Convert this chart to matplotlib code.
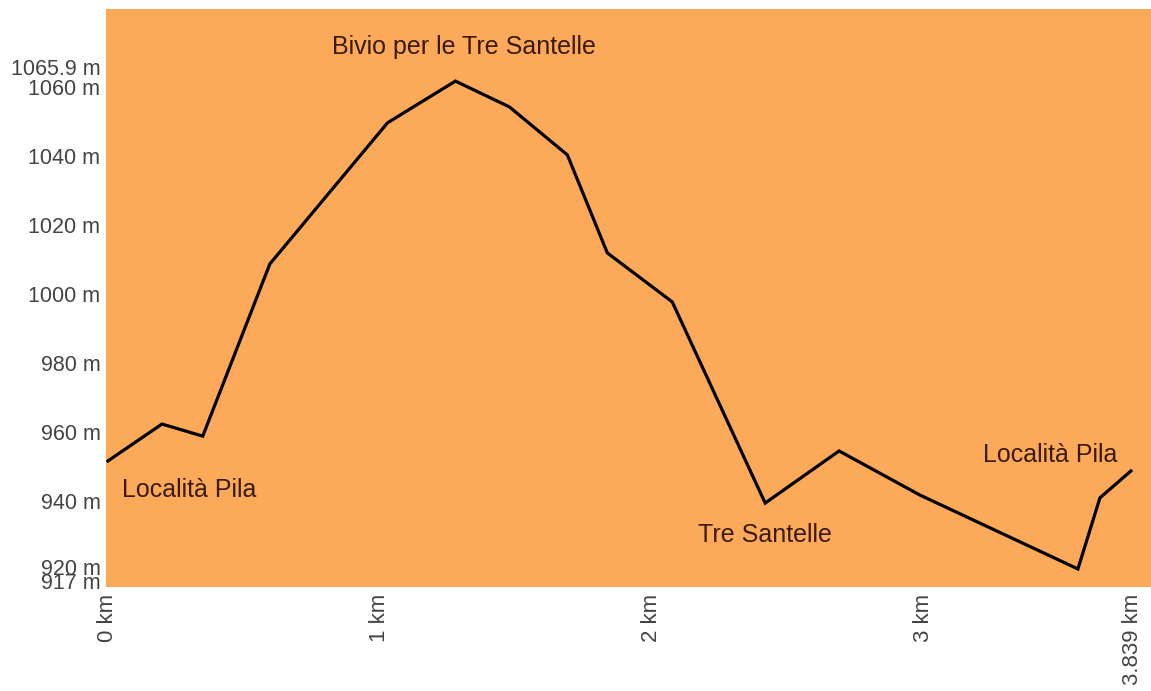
"""Elevation profile: Località Pila - Tre Santelle loop."""
import numpy as np
import matplotlib.pyplot as plt
from matplotlib.transforms import ScaledTranslation

# =============================================================================
# Data
# =============================================================================
dist_km = [0.0, 0.199, 0.349, 0.596, 1.029, 1.279, 1.478, 1.691, 1.838,
           2.077, 2.419, 2.691, 2.989, 3.570, 3.651, 3.765]
elev_m = [951.6, 962.3, 958.8, 1008.7, 1049.6, 1061.7, 1054.2, 1040.3,
          1011.9, 997.7, 939.4, 954.5, 941.7, 920.3, 940.9, 948.7]

x_ticks = [0, 1, 2, 3, 3.839]
x_ticklabels = ["0 km", "1 km", "2 km", "3 km", "3.839 km"]
y_ticks = [917, 920, 940, 960, 980, 1000, 1020, 1040, 1060, 1065.9]
y_ticklabels = ["917 m", "920 m", "940 m", "960 m", "980 m", "1000 m",
                "1020 m", "1040 m", "1060 m", "1065.9 m"]

# waypoint names and the profile point they belong to
place_names = ["Località Pila", "Bivio per le Tre Santelle", "Tre Santelle",
               "Località Pila"]
place_idx = [0, 5, 10, 15]

# =============================================================================
# Plotting
# =============================================================================
plt.rcParams['font.family'] = ['Liberation Sans', 'DejaVu Sans']

fig = plt.figure(figsize=(11.51, 6.91), dpi=100)
ax = fig.add_axes([0.0921, 0.1505, 0.9079, 0.8365])
ax.set_facecolor('#fca959')

ax.plot(dist_km, elev_m, color='black', lw=2.3, solid_joinstyle='miter')

ax.set_xlim(-0.007, 3.836)
ax.set_ylim(915.07, 1082.6)

ax.set_xticks(x_ticks)
ax.set_xticklabels(x_ticklabels, rotation=90, fontsize=16, color='#444444')
ax.set_yticks(y_ticks)
ax.set_yticklabels(y_ticklabels, fontsize=15.5, color='#444444')
ax.tick_params(axis='both', length=0)
ax.tick_params(axis='y', pad=4)
ax.tick_params(axis='x', pad=5)
for s in ax.spines.values():
    s.set_visible(False)


def nudge(label, dx_px, dy_px):
    """Shift a tick label by a few pixels."""
    label.set_transform(label.get_transform()
                        + ScaledTranslation(dx_px / 100, dy_px / 100,
                                            fig.dpi_scale_trans))


# last distance label sits at the very edge: pull it back inside the figure
nudge(ax.get_xticklabels()[-1], -18, 0)
# 917 m / 920 m are crowded, spread them a touch
ylabels = ax.get_yticklabels()
nudge(ylabels[0], 0, -1)
nudge(ylabels[1], 0, 3)

# -----------------------------------------------------------------------------
# Waypoint labels (offsets in pixels from their profile point)
# -----------------------------------------------------------------------------
offsets = [(14, -29), (9, 34), (0, -32), (-14, 16)]
aligns = [('left', 'center'), ('center', 'center'), ('center', 'center'),
          ('right', 'center')]
for name, i, off, (ha, va) in zip(place_names, place_idx, offsets, aligns):
    ax.annotate(name, (dist_km[i], elev_m[i]), xytext=off,
                textcoords='offset pixels', ha=ha, va=va, fontsize=18,
                color='#3a1a0a')

fig.savefig('out.png', dpi=100)
